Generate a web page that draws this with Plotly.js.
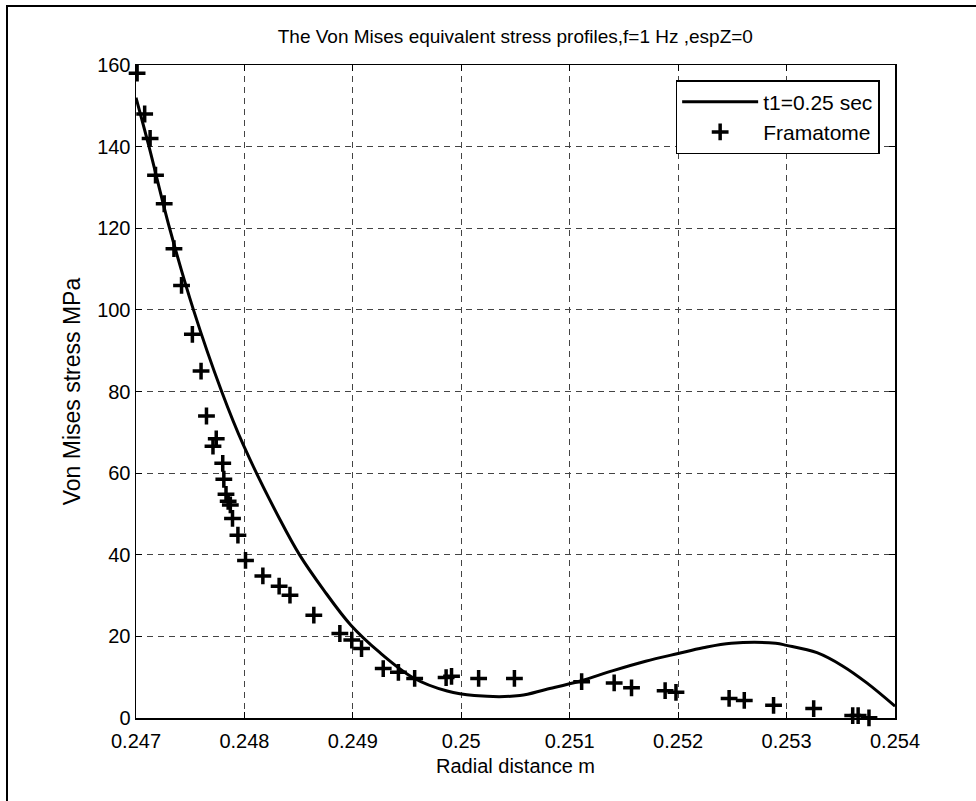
<!DOCTYPE html>
<html>
<head>
<meta charset="utf-8">
<script src="https://cdn.plot.ly/plotly-3.0.1.min.js"></script>
<style>
  html, body { margin: 0; padding: 0; background: #fff; }
  #frame { position: absolute; left: 6px; top: 5px; width: 980px; height: 800px;
           border-left: 2px solid #000; border-top: 2px solid #000; pointer-events: none; }
  #chart { position: absolute; left: 0; top: 0; width: 976px; height: 801px; }
</style>
</head>
<body>
<div id="chart"></div>
<div id="frame"></div>
<script>
// Computed profile at t1 = 0.25 s (radial distance in m, stress in MPa)
const curveR = [0.247, 0.24712, 0.24731, 0.24753, 0.24779, 0.24799, 0.24833, 0.24851,
  0.24873, 0.24898, 0.24925, 0.24956, 0.24987, 0.25012, 0.25054, 0.25078, 0.25109,
  0.2514, 0.2517, 0.252, 0.25223, 0.25249, 0.2529, 0.253, 0.25328, 0.25352, 0.25374, 0.254];
const curveS = [152, 140, 120, 100, 80, 66.9, 48.5, 39.9,
  31.4, 22.8, 16, 9.8, 6.6, 5.5, 5.5, 7, 9,
  11.6, 13.9, 15.8, 17.2, 18.3, 18.3, 17.8, 16, 12.7, 8.6, 2.9];

// Framatome reference points
const framR = [0.24701, 0.24708, 0.24713, 0.24718, 0.24726, 0.24735, 0.24742, 0.24752, 0.2476,
  0.24765, 0.24771, 0.24774, 0.2478, 0.24781, 0.24783, 0.24785, 0.24787, 0.24789, 0.24794,
  0.24801, 0.24817, 0.24832, 0.24842, 0.24864, 0.24888, 0.24899, 0.24908, 0.24928, 0.24942,
  0.24957, 0.24986, 0.24991, 0.25016, 0.25049, 0.25111, 0.25141, 0.25157, 0.25188, 0.25198,
  0.25247, 0.25261, 0.25288, 0.25325, 0.25361, 0.25366, 0.25376];
const framS = [158, 148, 142, 133, 126, 115, 106, 94, 85,
  74, 66.6, 68.4, 62.4, 58.5, 54.8, 53.1, 52.2, 48.9, 44.8,
  38.6, 34.8, 32.3, 30.1, 25.2, 20.7, 19.1, 17, 12.1, 11.2,
  9.7, 9.9, 10.2, 9.7, 9.7, 8.9, 8.6, 7.4, 6.7, 6.3,
  4.8, 4.3, 3.1, 2.3, 0.6, 0.6, 0.05];

const xTicks = [0.247, 0.248, 0.249, 0.25, 0.251, 0.252, 0.253, 0.254];
const xTickText = ['0.247', '0.248', '0.249', '0.25', '0.251', '0.252', '0.253', '0.254'];
const yTicks = [0, 20, 40, 60, 80, 100, 120, 140, 160];

const FONT = '"Liberation Sans", Arial, sans-serif';

const traces = [
  {
    x: curveR, y: curveS, type: 'scatter', mode: 'lines', name: 't1=0.25 sec',
    line: { color: '#000', width: 3, shape: 'spline', smoothing: 1 }
  },
  {
    x: framR, y: framS, type: 'scatter', mode: 'markers', name: 'Framatome',
    cliponaxis: false,
    marker: { symbol: 'cross-thin', size: 12, color: '#000', line: { color: '#000', width: 3.5 } }
  }
];

const axisCommon = {
  showline: true, linecolor: '#000', linewidth: 1.5, mirror: 'ticks',
  ticks: 'inside', ticklen: 6, tickwidth: 1, tickcolor: '#000',
  showgrid: true, gridcolor: '#444', gridwidth: 1, griddash: '6px,5px',
  zeroline: false, tickfont: { family: FONT, size: 20, color: '#000' }
};

const layout = {
  width: 976, height: 801,
  margin: { l: 136, r: 81, t: 65, b: 83 },
  paper_bgcolor: 'rgba(0,0,0,0)', plot_bgcolor: '#fff',
  font: { family: FONT, color: '#000' },
  title: {
    text: 'The Von Mises equivalent stress profiles,f=1 Hz ,espZ=0',
    font: { family: FONT, size: 19, color: '#000' },
    x: 0.528, xanchor: 'center', y: 0.954, yanchor: 'middle'
  },
  xaxis: Object.assign({}, axisCommon, {
    range: [0.247, 0.254], tickvals: xTicks, ticktext: xTickText, ticklabelstandoff: 4,
    title: { text: 'Radial distance m', font: { family: FONT, size: 20, color: '#000' }, standoff: 8 }
  }),
  yaxis: Object.assign({}, axisCommon, {
    range: [0, 160], tickvals: yTicks,
    title: { text: 'Von Mises stress MPa', font: { family: FONT, size: 23, color: '#000' }, standoff: 10 }
  }),
  showlegend: true,
  legend: {
    x: 0.711, y: 0.977, xanchor: 'left', yanchor: 'top',
    bgcolor: '#fff', bordercolor: '#000', borderwidth: 1.5,
    font: { family: FONT, size: 21, color: '#000' },
    itemwidth: 76, tracegroupgap: 4
  }
};

Plotly.newPlot('chart', traces, layout, { staticPlot: true });
</script>
</body>
</html>
